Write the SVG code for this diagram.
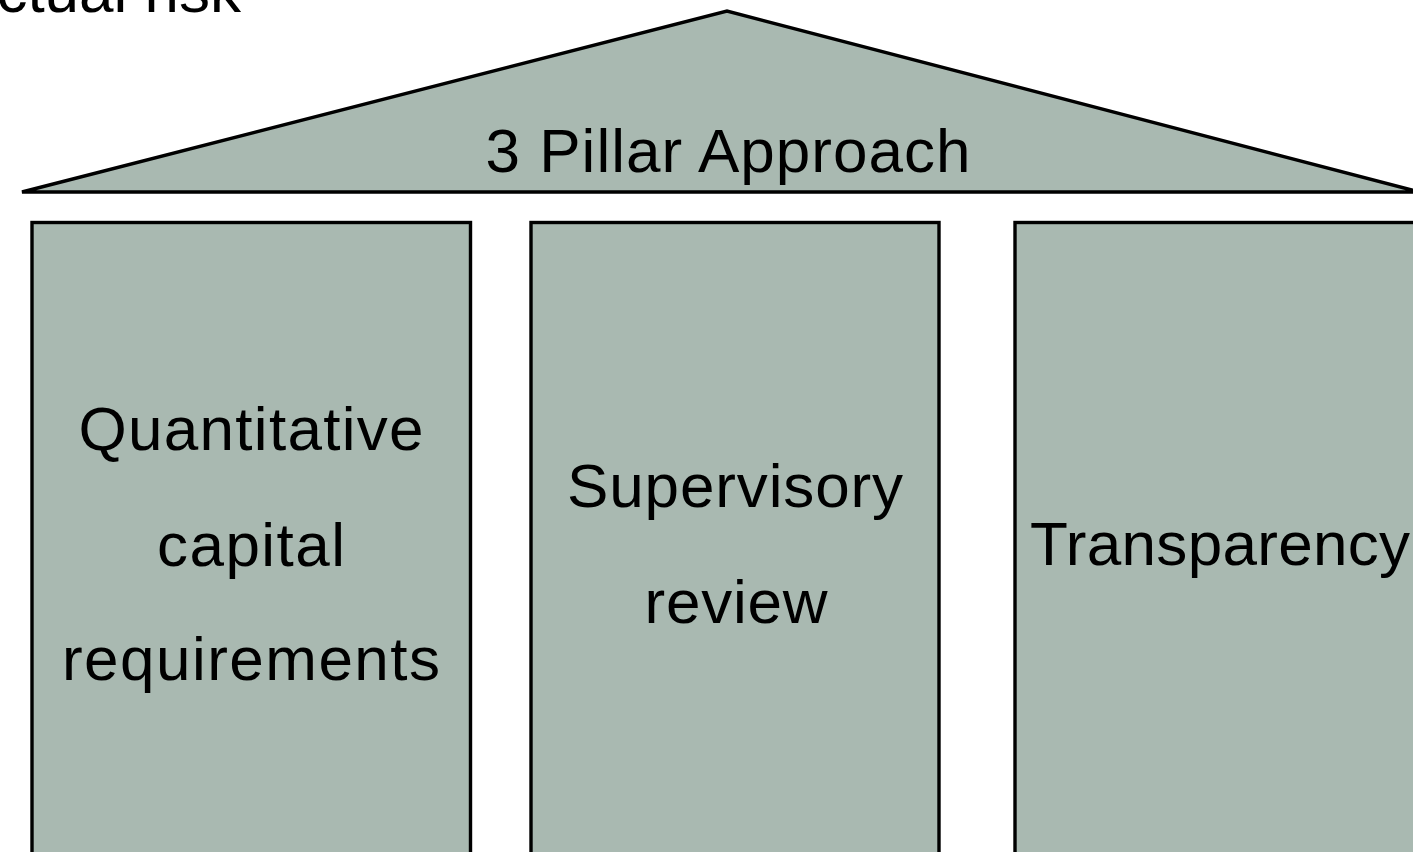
<svg xmlns="http://www.w3.org/2000/svg" width="1413" height="852" viewBox="0 0 1413 852">
<style>
.shape{fill:#a9b9b1;stroke:#000;stroke-width:3.4;stroke-linejoin:miter}
.lbl{font-family:"Liberation Sans",Arial,sans-serif;font-size:62px;fill:#000;text-anchor:middle}
</style>
<rect width="1413" height="852" fill="#fff"/>
<text x="241" y="12" class="lbl" style="text-anchor:end">ctual risk</text>
<g id="roof">
<polygon class="shape" points="22,192 727,11 1412,190 1412,192"/>
<text x="728" y="172" class="lbl" textLength="485" lengthAdjust="spacing">3 Pillar Approach</text>
</g>
<g id="pillar1">
<rect class="shape" x="32" y="222.5" width="438.5" height="660"/>
<text x="251" y="450" class="lbl" textLength="345" lengthAdjust="spacing">Quantitative</text>
<text x="251" y="566" class="lbl" textLength="188" lengthAdjust="spacing">capital</text>
<text x="251" y="680" class="lbl" textLength="378" lengthAdjust="spacing">requirements</text>
</g>
<g id="pillar2">
<rect class="shape" x="531" y="222.5" width="408" height="660"/>
<text x="735" y="507" class="lbl" textLength="336" lengthAdjust="spacing">Supervisory</text>
<text x="736" y="623" class="lbl" textLength="183" lengthAdjust="spacing">review</text>
</g>
<g id="pillar3">
<rect class="shape" x="1015" y="222.5" width="440" height="660"/>
<text x="1220" y="565" class="lbl" textLength="380" lengthAdjust="spacing">Transparency</text>
</g>
<g id="connectors"></g>
</svg>
